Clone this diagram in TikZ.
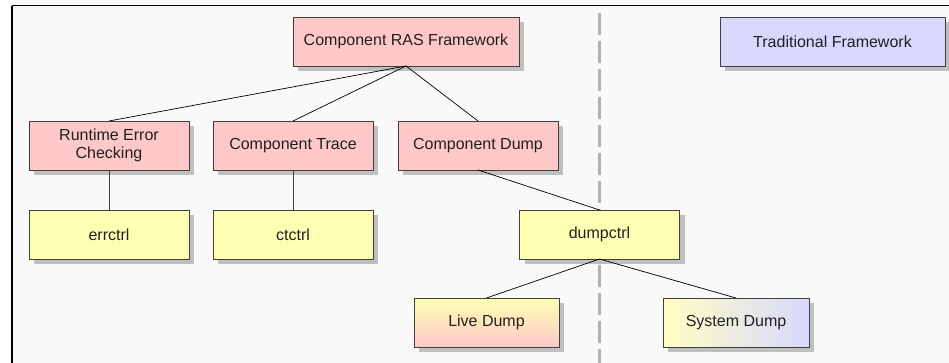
\documentclass[tikz,border=0pt]{standalone}
\usepackage{fontspec}
\setmainfont{Liberation Sans}
\usepackage{tikz}
\usetikzlibrary{shadows}
\usetikzlibrary{positioning}
\definecolor{mypink}{HTML}{FFC8C8}
\definecolor{myyellow}{HTML}{FFFFB4}
\definecolor{myblue}{HTML}{D8D8FF}
\definecolor{myedge}{HTML}{404040}
\definecolor{mybg}{HTML}{F9F9F9}
\definecolor{mytext}{HTML}{202020}
\tikzset{node distance=40pt, every text node part/.style={align=center, text=mytext, font={\fontsize{16}{18.5}\selectfont}}}
\tikzstyle{block} = [draw=myedge, line width=0.9pt, minimum width=160pt, minimum height=49pt, inner sep=2pt, outer sep=0pt, drop shadow={shadow xshift=5pt, shadow yshift=-5pt, fill=black!25, opacity=1}]
\tikzstyle{comp} = [block, fill=mypink]
\tikzstyle{ctrl} = [block, fill=myyellow]
\tikzstyle{ln} = [draw, line width=0.7pt, black]

\begin{document}
\begin{tikzpicture}[x=1pt, y=-1pt]
  \useasboundingbox (0,0) rectangle (949,363);
  \fill[mybg] (12,6) rectangle (949,363);
  \draw[line width=1pt] (949,6) -- (12,6);
  \draw[line width=2pt] (12,6) -- (12,363);
  \coordinate (sep-top) at (599,13);
  \coordinate (sep-bottom) at (599,363);
  \draw[black!30, line width=3pt, dash pattern=on 22pt off 6pt] (sep-top) -- (sep-bottom);
  % component side
  \node[comp, minimum width=226pt] (ras) at (406,41.5) {Component RAS Framework};
  \node[comp] (runtime) at (109,145.5) {Runtime Error\\Checking};
  \node[comp, right=24pt of runtime] (trace) {Component Trace};
  \node[comp, right=25pt of trace] (dump) {Component Dump};
  \node[ctrl, below=of runtime] (errctrl) {errctrl};
  \node[ctrl, below=of trace] (ctctrl) {ctctrl};
  \node[ctrl] (dumpctrl) at (599.5,234.5) {dumpctrl};
  \node[block, minimum width=145pt, top color=myyellow, bottom color=mypink] (live) at (486.5,322.5) {Live Dump};
  \node[block, minimum width=146pt, left color=myyellow!80!white, right color=myblue] (system) at (736,322.5) {System Dump};
  % traditional side
  \node[block, fill=myblue, minimum width=225pt] (trad) at (832.5,41.5) {Traditional Framework};
  \path[ln] (ras.south) -- (runtime.north);
  \path[ln] (ras.south) -- (trace.north);
  \path[ln] (ras.south) -- (dump.north);
  \path[ln, draw=myedge] (runtime) -- (errctrl);
  \path[ln, draw=myedge] (trace) -- (ctctrl);
  \path[ln] (dump.south) -- (dumpctrl.north);
  \path[ln] (dumpctrl.south) -- (live.north);
  \path[ln] (dumpctrl.south) -- (system.north);
\end{tikzpicture}
\end{document}
